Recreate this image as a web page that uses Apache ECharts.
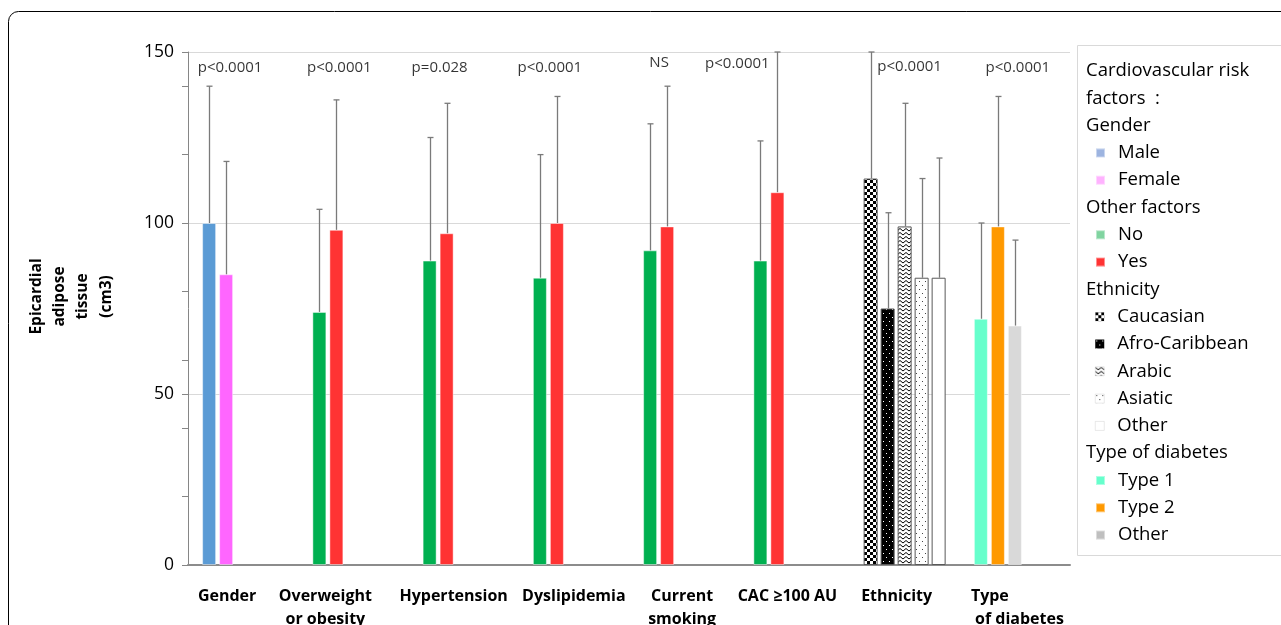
<!DOCTYPE html>
<html><head><meta charset="utf-8">
<script src="https://cdn.jsdelivr.net/npm/echarts@6/dist/echarts.min.js"></script>
<style>html,body{margin:0;padding:0;background:#fff}#c{width:1281px;height:625px}</style>
</head><body><div id="c"></div>
<script>
// ---------------- DATA ----------------
const categories = ['Gender', 'Overweight\nor obesity', 'Hypertension', 'Dyslipidemia', 'Current\nsmoking', 'CAC \u2265100 AU', 'Ethnicity', 'Type\n of diabetes'];
const genderNames = ['Male', 'Female'];
const genderMean = [100, 85];
const genderUpper = [140, 118];
const otherFactorCats = [1, 2, 3, 4, 5];
const noMean = [74, 89, 84, 92, 89];
const noUpper = [104, 125, 120, 129, 124];
const yesMean = [98, 97, 100, 99, 109];
const yesUpper = [136, 135, 137, 140, 150];
const ethnicityNames = ['Caucasian', 'Afro-Caribbean', 'Arabic', 'Asiatic', 'Other'];
const ethnicityMean = [113, 75, 99, 84, 84];
const ethnicityUpper = [150, 103, 135, 113, 119];
const diabetesNames = ['Type 1', 'Type 2', 'Other '];
const diabetesMean = [72, 99, 70];
const diabetesUpper = [100, 137, 95];
const pValues = ['p<0.0001', 'p<0.0001', 'p=0.028', 'p<0.0001', 'NS', 'p<0.0001', 'p<0.0001', 'p<0.0001'];
const yTicks = [0, 50, 100, 150];

// ---------------- LAYOUT / STYLE ----------------
const FONT = 'Open Sans';
const BAR_W = 14, BAR_GAP = 3, PITCH = BAR_W + BAR_GAP, NSLOT = 5;
const P_Y = 145.3;
const pOffsets = [[-13, 0], [-14, 0], [-24, 0], [-24, 0], [-25, -5], [-57, -4], [5, -1], [3, 0]];
const xLabelShift = [-16, -28, -10, 0, -2, -7, -8, 0];

function pattern(w, h, draw) {
  const c = document.createElement('canvas'); c.width = w; c.height = h;
  const g = c.getContext('2d'); draw(g, w, h);
  return { image: c, repeat: 'repeat' };
}
const patCheck = pattern(6, 6, (g) => { g.fillStyle = '#fff'; g.fillRect(0,0,6,6); g.fillStyle = '#000'; g.fillRect(0,0,3,3); g.fillRect(3,3,3,3); });
const patBlackDots = pattern(6, 8, (g) => { g.fillStyle = '#000'; g.fillRect(0,0,6,8); g.fillStyle = '#fff'; g.fillRect(1,1,1,1); g.fillRect(4,5,1,1); });
const patZigzag = pattern(6, 4, (g) => { g.fillStyle = '#fff'; g.fillRect(0,0,6,4); g.strokeStyle = '#000'; g.lineWidth = 1; g.beginPath(); g.moveTo(0,0.5); g.lineTo(3,3); g.lineTo(6,0.5); g.stroke(); });
const patDots = pattern(6, 8, (g) => { g.fillStyle = '#fff'; g.fillRect(0,0,6,8); g.fillStyle = '#444'; g.fillRect(1,1,1,1); g.fillRect(4,5,1,1); });

const N = categories.length;
function fill(cats, vals) { const a = new Array(N).fill('-'); cats.forEach((c, k) => { a[c] = vals[k]; }); return a; }

const barDefs = [
  { name: genderNames[0], slot: 0, cats: [0], mean: [genderMean[0]], upper: [genderUpper[0]], color: '#5b9bd5' },
  { name: genderNames[1], slot: 1, cats: [0], mean: [genderMean[1]], upper: [genderUpper[1]], color: '#ff66ff' },
  { name: 'No', slot: 0, cats: otherFactorCats, mean: noMean, upper: noUpper, color: '#00b050' },
  { name: 'Yes', slot: 1, cats: otherFactorCats, mean: yesMean, upper: yesUpper, color: '#ff3333' }
];
const ethColors = [patCheck, patBlackDots, patZigzag, patDots, '#ffffff'];
ethnicityNames.forEach((n, i) => barDefs.push({ name: n, slot: i, cats: [6], mean: [ethnicityMean[i]], upper: [ethnicityUpper[i]], color: ethColors[i], border: '#595959' }));
const diabColors = ['#66ffcc', '#ff9900', '#d9d9d9'];
const diabLegend = ['#66ffcc', '#ff9900', '#bfbfbf'];
diabetesNames.forEach((n, i) => barDefs.push({ name: n, slot: i, cats: [7], mean: [diabetesMean[i]], upper: [diabetesUpper[i]], color: diabColors[i] }));

const series = barDefs.map(d => ({
  type: 'bar', name: d.name, stack: 's' + d.slot, barWidth: BAR_W, barGap: (BAR_GAP / BAR_W * 100) + '%',
  data: fill(d.cats, d.mean),
  itemStyle: { color: d.color, borderColor: d.border || 'rgba(255,255,255,0.45)', borderWidth: 1 },
  emphasis: { disabled: true }, animation: false
}));

const errData = [];
barDefs.forEach(d => d.cats.forEach((c, k) => errData.push([c, d.mean[k], d.upper[k], d.slot])));
series.push({
  type: 'custom', name: 'err', data: errData, encode: { x: 0, y: [1, 2] }, z: 5, animation: false, silent: true,
  renderItem: function (params, api) {
    const c = api.value(0), s = api.value(3);
    const b = api.coord([c, api.value(1)]);
    const t = api.coord([c, api.value(2)]);
    const x = Math.round(b[0] + (s - (NSLOT - 1) / 2) * PITCH) + 0.5;
    const st = { stroke: '#7a7a7a', lineWidth: 1.3 };
    return { type: 'group', children: [
      { type: 'line', shape: { x1: x, y1: b[1], x2: x, y2: t[1] }, style: st },
      { type: 'line', shape: { x1: x - 3, y1: t[1], x2: x + 3, y2: t[1] }, style: st }
    ] };
  }
});
series.push({
  type: 'scatter', name: 'p', symbolSize: 0, silent: true, animation: false, z: 6,
  data: pValues.map((p, i) => ({ value: [i, P_Y], label: { offset: pOffsets[i] } })),
  label: { show: true, position: 'inside', formatter: (d) => pValues[d.dataIndex], fontSize: 15, color: '#000', fontFamily: FONT }
});

const xData = categories.map((c, i) => {
  const s = xLabelShift[i];
  if (!s) return c;
  return { value: c, textStyle: { padding: s < 0 ? [0, -2 * s, 0, 0] : [0, 0, 0, 2 * s] } };
});

const LFS = 18.5;
const legendCommon = {
  orient: 'vertical', left: 1095, icon: 'rect', itemWidth: 9, itemHeight: 9, itemGap: 0, padding: 0,
  selectedMode: false, textStyle: { fontFamily: FONT, fontSize: LFS, color: '#000', lineHeight: 27.3, padding: [0, 0, 0, 8] }
};
function legendItems(names, colors) { return names.map((n, i) => colors && colors[i] ? { name: n, itemStyle: { color: colors[i] } } : { name: n }); }
const ethLegendBorders = [0, 0, 0.5, 0.5, 0.5];
const ethLegend = ethnicityNames.map((n, i) => ({ name: n, itemStyle: { borderColor: '#d0d0d0', borderWidth: ethLegendBorders[i] } }));
const ROW = 27.3, ROW0 = 71;
function rowTop(r) { return ROW0 + r * ROW - ROW / 2; }
const titleStyle = { fontFamily: FONT, fontSize: LFS, fontWeight: 'normal', color: '#000', lineHeight: ROW };

const option = {
  animation: false,
  textStyle: { fontFamily: FONT },
  grid: { left: 188, right: 211, top: 52, bottom: 60, containLabel: false, outerBoundsMode: 'none' },
  title: [
    { text: 'Cardiovascular risk\nfactors  :', left: 1086, top: rowTop(0), padding: 0, textStyle: titleStyle },
    { text: 'Gender', left: 1086, top: rowTop(2), padding: 0, textStyle: titleStyle },
    { text: 'Other factors', left: 1086, top: rowTop(5), padding: 0, textStyle: titleStyle },
    { text: 'Ethnicity', left: 1086, top: rowTop(8), padding: 0, textStyle: titleStyle },
    { text: 'Type of diabetes', left: 1086, top: rowTop(14), padding: 0, textStyle: titleStyle }
  ],
  legend: [
    Object.assign({}, legendCommon, { top: rowTop(3), data: legendItems(genderNames, ['#9db4e0', '#ffb3ff']) }),
    Object.assign({}, legendCommon, { top: rowTop(6), data: legendItems(['No', 'Yes'], ['#80d4a0', '#ff3333']) }),
    Object.assign({}, legendCommon, { top: rowTop(9), data: ethLegend }),
    Object.assign({}, legendCommon, { top: rowTop(15), data: legendItems(diabetesNames, diabLegend) })
  ],
  xAxis: {
    type: 'category', data: xData, boundaryGap: true,
    axisLine: { lineStyle: { color: '#8c8c8c', width: 2 } }, axisTick: { show: false },
    axisLabel: {
      interval: 0, margin: 20, fontFamily: FONT, fontSize: 16, fontWeight: 'bold', color: '#000', lineHeight: 23,
      formatter: (v, i) => i === 7 ? '{t|Type}\n{t| of diabetes}' : v,
      rich: { t: { width: 88, align: 'left', fontFamily: FONT, fontSize: 16, fontWeight: 'bold', color: '#000', lineHeight: 23 } }
    }
  },
  yAxis: [
    {
      type: 'value', min: yTicks[0], max: yTicks[yTicks.length - 1], interval: yTicks[1] - yTicks[0],
      name: 'Epicardial\nadipose\ntissue\n(cm3)', nameLocation: 'middle', nameRotate: 90, nameGap: 70,
      nameTextStyle: { fontFamily: FONT, fontWeight: 'bold', fontSize: 15.5, lineHeight: 23.3, color: '#000', align: 'center', padding: [0, 0, 0, 24] },
      axisLine: { show: true, lineStyle: { color: '#868686', width: 1 } },
      axisTick: { show: true, length: 6, lineStyle: { color: '#868686' } },
      axisLabel: { margin: 14, fontFamily: FONT, fontSize: 17.5, color: '#000' },
      splitLine: { show: true, lineStyle: { color: '#d9d9d9', width: 1 } }
    },
    {
      type: 'value', min: 0, max: 150, interval: 20, position: 'left',
      axisLine: { show: false }, axisLabel: { show: false }, splitLine: { show: false },
      axisTick: { show: true, length: 6, lineStyle: { color: '#868686' } }
    }
  ],
  graphic: [
    { type: 'rect', shape: { x: 8.5, y: 11.5, width: 1400, height: 800, r: 10 }, style: { fill: null, stroke: '#000', lineWidth: 1 }, silent: true, z: -10 },
    { type: 'rect', shape: { x: 1077.5, y: 45.5, width: 300, height: 510 }, style: { fill: null, stroke: '#d9d9d9', lineWidth: 1 }, silent: true, z: -10 }
  ],
  series: series
};
const chart = echarts.init(document.getElementById('c'), null, { renderer: 'canvas' });
chart.setOption(option);
</script></body></html>
